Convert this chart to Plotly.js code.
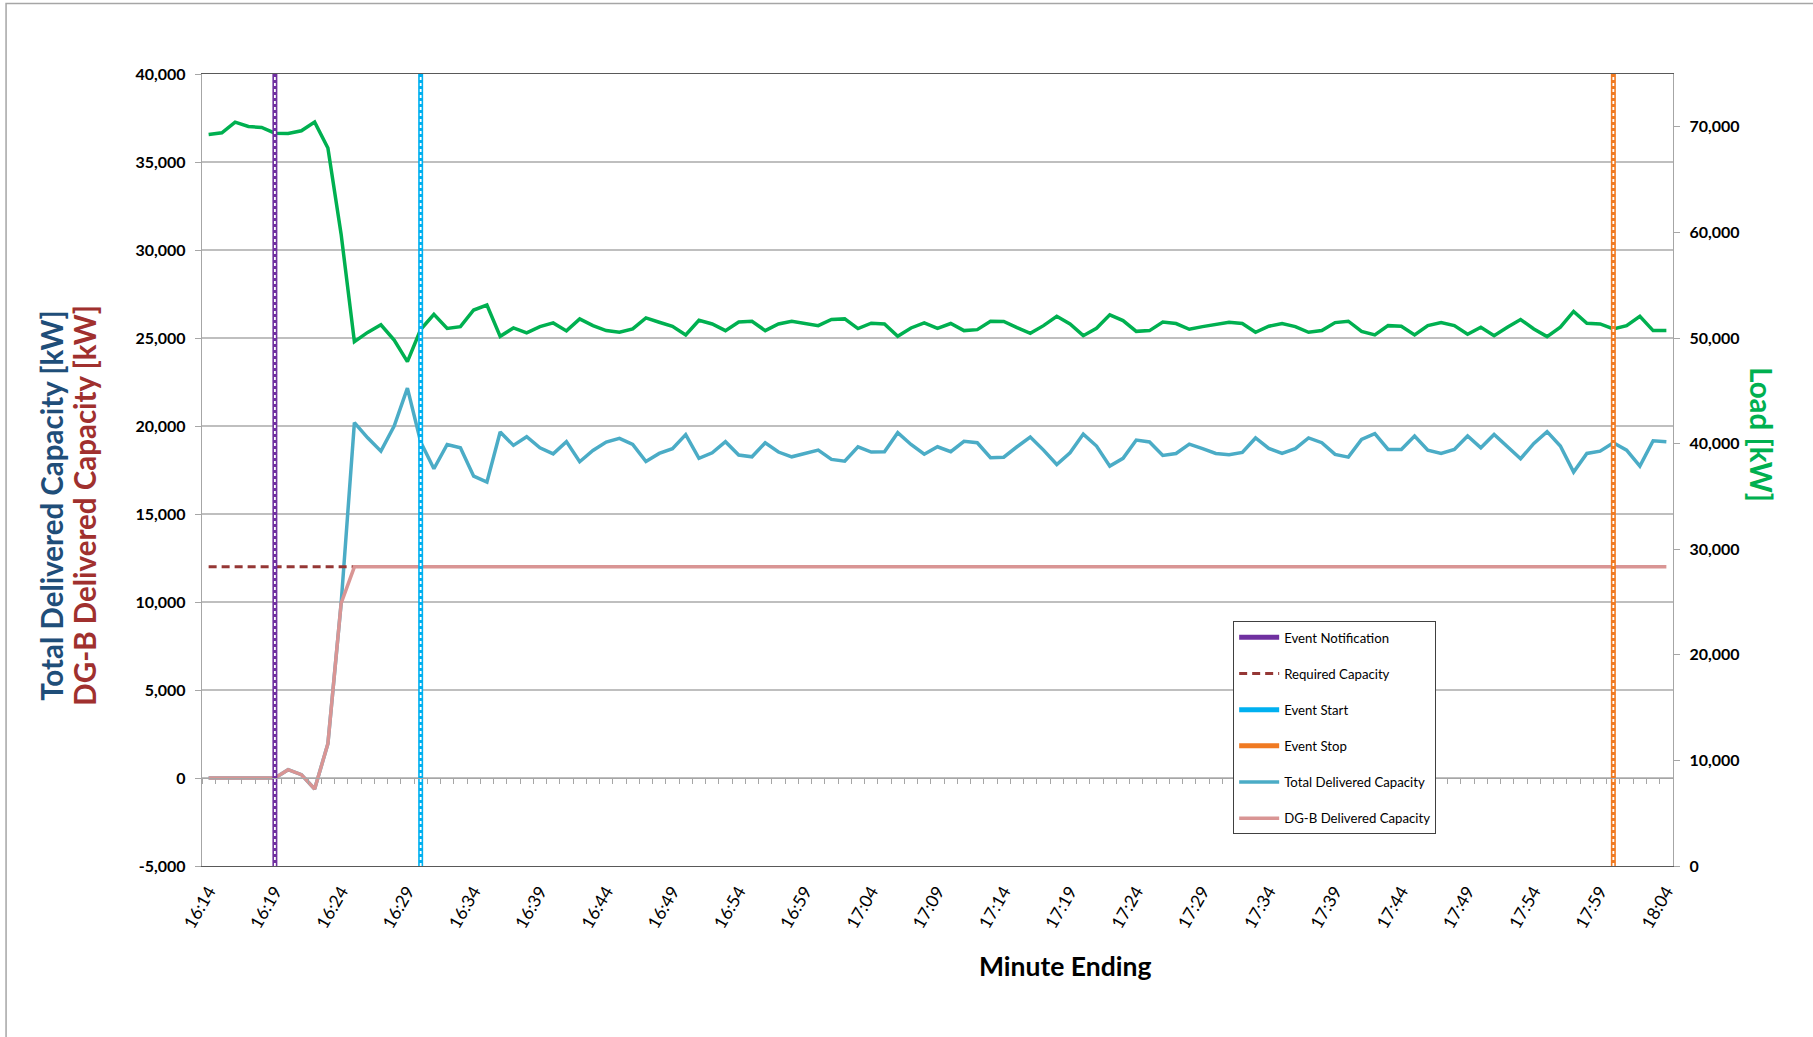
<!DOCTYPE html>
<html>
<head>
<meta charset="utf-8">
<script src="https://cdn.plot.ly/plotly-3.0.1.min.js"></script>
<style>html,body{margin:0;padding:0;background:#fff;}#chart{width:1813px;height:1037px;}</style>
</head>
<body>
<div id="chart"></div>
<script>
// ---- Data ----
const minutes = [
 '16:14','16:15','16:16','16:17','16:18','16:19','16:20','16:21','16:22','16:23',
 '16:24','16:25','16:26','16:27','16:28','16:29','16:30','16:31','16:32','16:33',
 '16:34','16:35','16:36','16:37','16:38','16:39','16:40','16:41','16:42','16:43',
 '16:44','16:45','16:46','16:47','16:48','16:49','16:50','16:51','16:52','16:53',
 '16:54','16:55','16:56','16:57','16:58','16:59','17:00','17:01','17:02','17:03',
 '17:04','17:05','17:06','17:07','17:08','17:09','17:10','17:11','17:12','17:13',
 '17:14','17:15','17:16','17:17','17:18','17:19','17:20','17:21','17:22','17:23',
 '17:24','17:25','17:26','17:27','17:28','17:29','17:30','17:31','17:32','17:33',
 '17:34','17:35','17:36','17:37','17:38','17:39','17:40','17:41','17:42','17:43',
 '17:44','17:45','17:46','17:47','17:48','17:49','17:50','17:51','17:52','17:53',
 '17:54','17:55','17:56','17:57','17:58','17:59','18:00','18:01','18:02','18:03',
 '18:04'
];

const totalDelivered = [
 0,0,0,0,0,0,470,190,-625,1950,
 9940,20190,19330,18570,20000,22150,19090,17570,18950,18760,
 17150,16810,19660,18900,19390,18760,18420,19110,17970,18610,
 19090,19300,18950,17980,18440,18710,19510,18160,18480,19110,
 18350,18250,19050,18520,18250,18440,18630,18100,18000,18820,
 18520,18540,19620,18950,18400,18820,18540,19130,19050,18200,
 18230,18820,19370,18630,17810,18480,19540,18860,17720,18160,
 19200,19090,18330,18440,18970,18710,18440,18370,18500,19320,
 18730,18440,18710,19320,19050,18390,18230,19240,19560,18670,
 18670,19430,18630,18440,18670,19430,18760,19520,18860,18140,
 19010,19680,18860,17380,18440,18570,19050,18630,17720,19160,
 19110
];

const dgbDelivered = [
 0,0,0,0,0,0,470,190,-625,1950,
 9940,12000,12000,12000,12000,12000,12000,12000,12000,12000,
 12000,12000,12000,12000,12000,12000,12000,12000,12000,12000,
 12000,12000,12000,12000,12000,12000,12000,12000,12000,12000,
 12000,12000,12000,12000,12000,12000,12000,12000,12000,12000,
 12000,12000,12000,12000,12000,12000,12000,12000,12000,12000,
 12000,12000,12000,12000,12000,12000,12000,12000,12000,12000,
 12000,12000,12000,12000,12000,12000,12000,12000,12000,12000,
 12000,12000,12000,12000,12000,12000,12000,12000,12000,12000,
 12000,12000,12000,12000,12000,12000,12000,12000,12000,12000,
 12000,12000,12000,12000,12000,12000,12000,12000,12000,12000,
 12000
];

const requiredMinutes = ['16:14','16:15','16:16','16:17','16:18','16:19','16:20','16:21','16:22','16:23','16:24','16:25'];
const requiredCapacity = [12000,12000,12000,12000,12000,12000,12000,12000,12000,12000,12000,12000];

const load = [
 69280,69430,70440,70030,69940,69400,69370,69620,70440,67990,
 59810,49650,50530,51250,49800,47760,50800,52240,50910,51070,
 52650,53120,50160,50950,50480,51080,51430,50670,51810,51170,
 50700,50540,50860,51900,51490,51100,50290,51680,51330,50700,
 51520,51590,50700,51330,51590,51400,51170,51750,51810,50890,
 51400,51330,50160,50950,51430,50920,51370,50700,50790,51590,
 51560,50980,50440,51170,52060,51330,50220,50920,52190,51650,
 50630,50700,51520,51370,50830,51080,51330,51500,51370,50540,
 51110,51370,51080,50540,50700,51460,51590,50630,50290,51170,
 51110,50290,51170,51460,51170,50350,51020,50220,51020,51750,
 50860,50130,51020,52510,51400,51330,50860,51170,52060,50700,
 50700
];

const eventNotification = '16:19';
const eventStart = '16:30';
const eventStop = '18:00';
const eventSpan = [0, 75000];   // full height on the Load axis

const leftTicks = [-5000,0,5000,10000,15000,20000,25000,30000,35000,40000];
const rightTicks = [0,10000,20000,30000,40000,50000,60000,70000];
const xTickLabels = ['16:14','16:19','16:24','16:29','16:34','16:39','16:44','16:49','16:54','16:59',
 '17:04','17:09','17:14','17:19','17:24','17:29','17:34','17:39','17:44','17:49','17:54','17:59','18:04'];

// ---- Styling ----
const FONT = 'Lato, "Open Sans", sans-serif';
const fmt = v => (v < 0 ? '-' : '') + Math.abs(v).toLocaleString('en-US');

function eventTraces(name, xval, color, rank, legendWidth) {
  return [
    {x:[xval,xval], y:eventSpan, yaxis:'y2', type:'scatter', mode:'lines', name:name,
     line:{color:color, width:5}, legendgroup:name, legendrank:rank, hoverinfo:'skip'},
    {x:[xval,xval], y:eventSpan, yaxis:'y2', type:'scatter', mode:'lines', showlegend:false,
     line:{color:'#ffffff', width:1.8, dash:'dot'}, hoverinfo:'skip'}
  ];
}

const traces = [
  {x:minutes, y:totalDelivered, type:'scatter', mode:'lines', name:'Total Delivered Capacity',
   line:{color:'#4BACC6', width:3.5}, legendgroup:'total', legendrank:5},
  {x:requiredMinutes, y:requiredCapacity, type:'scatter', mode:'lines', name:'Required Capacity',
   line:{color:'#953735', width:3, dash:'8px,5px'}, legendgroup:'req', legendrank:2},
  {x:minutes, y:dgbDelivered, type:'scatter', mode:'lines', name:'DG-B Delivered Capacity',
   line:{color:'#D99594', width:3.5}, legendgroup:'dgb', legendrank:6},
  {x:[0], y:[null], xaxis:'x2', type:'scatter', mode:'lines', showlegend:false, hoverinfo:'skip'},
  {x:minutes, y:load, yaxis:'y2', type:'scatter', mode:'lines', name:'Load', showlegend:false,
   line:{color:'#00B050', width:3.5}},
  ...eventTraces('Event Notification', eventNotification, '#7030A0', 1),
  ...eventTraces('Event Start', eventStart, '#00B0F0', 3),
  ...eventTraces('Event Stop', eventStop, '#F07A22', 4)
];

const layout = {
  width:1813, height:1037,
  margin:{l:202, r:140, t:74, b:171, pad:0},
  paper_bgcolor:'#ffffff', plot_bgcolor:'#ffffff',
  font:{family:FONT, color:'#000'},
  showlegend:true,
  xaxis:{
    type:'category', categoryorder:'array', categoryarray:minutes,
    range:[-0.5, minutes.length-0.5],
    tickmode:'array', tickvals:xTickLabels, ticktext:xTickLabels,
    tickangle:-60, tickfont:{family:FONT, size:17.5, color:'#000'},
    ticks:'', ticklabelstandoff:7,
    showgrid:false, zeroline:false,
    showline:true, linecolor:'#595959', linewidth:1.3, mirror:true
  },
  xaxis2:{
    overlaying:'x', anchor:'free', position:(0-(-5000))/45000,
    range:[-0.5, minutes.length-0.5], tickmode:'linear', tick0:-0.5, dtick:1,
    ticks:'outside', ticklen:5, tickcolor:'#A6A6A6', tickwidth:1,
    showticklabels:false, showgrid:false, zeroline:false,
    showline:true, linecolor:'#A6A6A6', linewidth:1
  },
  yaxis:{
    range:[-5000, 40000], tickmode:'array', tickvals:leftTicks, ticktext:leftTicks.map(fmt),
    tickfont:{family:FONT, size:16, color:'#000', weight:'bold'},
    ticks:'outside', ticklen:6, tickcolor:'#A6A6A6', ticklabelstandoff:6,
    showgrid:true, gridcolor:'#BFBFBF', gridwidth:1.2, zeroline:false,
    showline:true, linecolor:'#A6A6A6', linewidth:1.2
  },
  yaxis2:{
    overlaying:'y', side:'right', range:[0, 75000],
    tickmode:'array', tickvals:rightTicks, ticktext:rightTicks.map(fmt),
    tickfont:{family:FONT, size:16, color:'#000', weight:'bold'},
    ticks:'outside', ticklen:6, tickcolor:'#A6A6A6', ticklabelstandoff:6,
    showgrid:false, zeroline:false,
    showline:true, linecolor:'#A6A6A6', linewidth:1.2
  },
  legend:{
    x:0.701, y:0.309, xanchor:'left', yanchor:'top',
    bgcolor:'#ffffff', bordercolor:'#404040', borderwidth:1,
    font:{family:FONT, size:13.2, color:'#000'},
    traceorder:'grouped', tracegroupgap:16, itemwidth:40
  },
  annotations:[
    {text:'<b>Total Delivered Capacity [kW]</b>', xref:'paper', yref:'paper', x:-0.102, y:0.456,
     xanchor:'center', yanchor:'middle',
     textangle:-90, showarrow:false, font:{family:FONT, size:29.5, color:'#1F4E79'}},
    {text:'<b>DG-B Delivered Capacity [kW]</b>', xref:'paper', yref:'paper', x:-0.0795, y:0.455,
     xanchor:'center', yanchor:'middle',
     textangle:-90, showarrow:false, font:{family:FONT, size:29.5, color:'#A0302E'}},
    {text:'<b>Load [kW]</b>', xref:'paper', yref:'paper', x:1.06, y:0.545,
     xanchor:'center', yanchor:'middle',
     textangle:90, showarrow:false, font:{family:FONT, size:29.5, color:'#00B050'}},
    {text:'<b>Minute Ending</b>', xref:'paper', yref:'paper', x:0.587, y:-0.126,
     xanchor:'center', yanchor:'middle',
     showarrow:false, font:{family:FONT, size:26.5, color:'#000'}}
  ],
  shapes:[
    {type:'rect', xref:'paper', yref:'paper', x0:-0.1332, x1:1.3, y0:-0.4, y1:1.089,
     line:{color:'#A6A6A6', width:1.5}, fillcolor:'rgba(0,0,0,0)', layer:'below'}
  ]
};

Plotly.newPlot('chart', traces, layout, {displayModeBar:false, staticPlot:true});
</script>
</body>
</html>
